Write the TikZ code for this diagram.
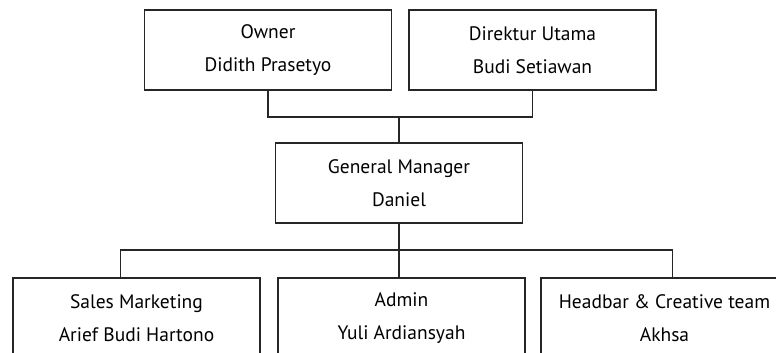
\documentclass[tikz,border=0pt]{standalone}
\usepackage{fontspec}
\setmainfont{PT Sans}

\tikzset{ every node/.style={draw, rectangle, minimum width=247pt, minimum height=80pt, align=center, font=\fontsize{19.5}{29}\selectfont} }

\begin{document}
\begin{tikzpicture}[x=1pt, y=-1pt, line width=1.1pt, draw=black!85]
        \useasboundingbox (0,0) rectangle (776,353);
        \clip (0,0) rectangle (776,353);

        \node (owner) at (268,50) {Owner\\[4pt]Didith Prasetyo};
        \node (dirut) at (532.5,50) {Direktur Utama\\[4pt]Budi Setiawan};
        \node (gm) at (399,183) {General Manager\\[4pt]Daniel};
        \node (sales) at (136.5,318) {Sales Marketing\\[4pt]Arief Budi Hartono};
        \node (admin) at (401.5,318) {Admin\\[4pt]Yuli Ardiansyah};
        \node (creative) at (664.5,318) {Headbar \& Creative team\\[4pt]Akhsa};

        \coordinate (topbus) at (gm.north |- 0,117);
        \coordinate (botbus) at (gm.south |- 0,250);

        \draw (owner.south) |- (topbus) -| (dirut.south);
        \draw (topbus) -- (gm.north);
        \draw (gm.south) -- (gm.south |- admin.north);
        \draw ([xshift=-16pt]sales.north) |- (botbus) -| ([xshift=8pt]creative.north);
    \end{tikzpicture}
\end{document}
